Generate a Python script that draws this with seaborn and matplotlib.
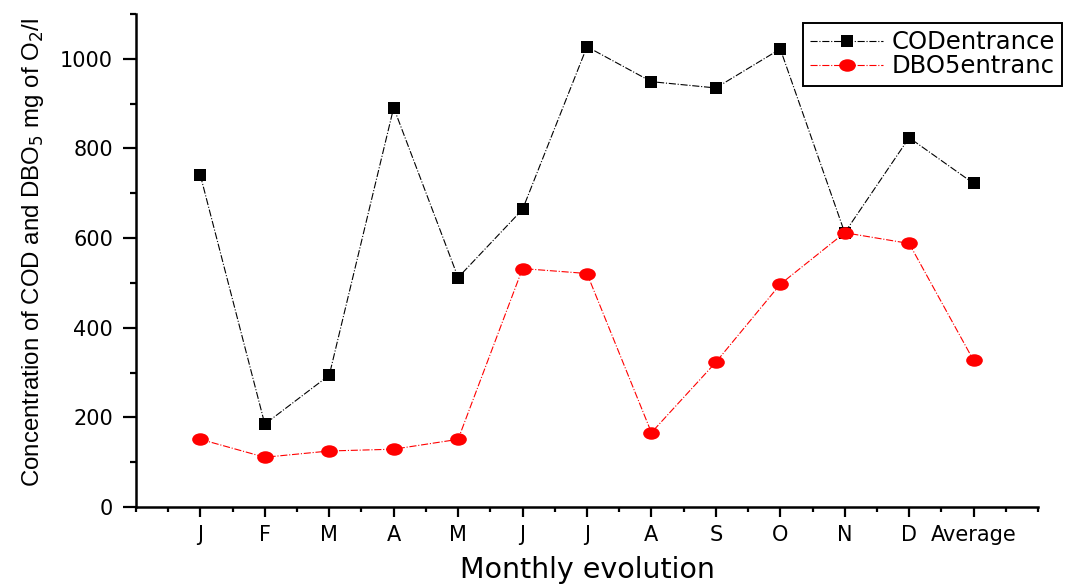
import matplotlib
matplotlib.use("Agg")
import matplotlib.pyplot as plt
from matplotlib.ticker import MultipleLocator
from matplotlib.path import Path
import pandas as pd
import seaborn as sns

# ── Data ──
months = ["J", "F", "M", "A", "M", "J", "J", "A", "S", "O", "N", "D", "Average"]
cod_entrance = [740, 185, 294, 891, 512, 664, 1027, 949, 935, 1022, 612, 824, 722]
dbo5_entrance = [151, 111, 125, 129, 151, 532, 521, 166, 323, 497, 612, 588, 327]

positions = list(range(1, len(months) + 1))
df = pd.DataFrame({
    "pos": positions * 2,
    "value": cod_entrance + dbo5_entrance,
    "series": ["CODentrance"] * len(months) + ["DBO5entranc"] * len(months),
})

sns.set_style("ticks", rc={"text.color": "black", "axes.labelcolor": "black",
                           "xtick.color": "black", "ytick.color": "black",
                           "axes.edgecolor": "black"})
plt.rcParams["font.family"] = ["DejaVu Sans"]

# the red markers are slightly wider than tall in the original
circ = Path.unit_circle()
ellipse = Path(circ.vertices * [1.0, 0.75], circ.codes)

fig = plt.figure(figsize=(10.73, 5.86), dpi=100)
ax = fig.add_axes([0.1267, 0.1348, 0.8407, 0.8413])

sns.lineplot(data=df[df.series == "CODentrance"], x="pos", y="value",
             color="black", marker="s", markersize=8.8, markeredgewidth=0,
             linestyle="-.", lw=0.8, label="CODentrance", ax=ax)
sns.lineplot(data=df[df.series == "DBO5entranc"], x="pos", y="value",
             color="red", marker=ellipse, markersize=12, markeredgewidth=0,
             linestyle="-.", lw=0.8, label="DBO5entranc", ax=ax)

ax.set_xlim(0, 14)
ax.set_ylim(0, 1100)
ax.set_xticks(positions)
ax.set_xticklabels(months)
ax.xaxis.set_minor_locator(MultipleLocator(0.5))
ax.set_yticks(range(0, 1001, 200))
ax.yaxis.set_minor_locator(MultipleLocator(100))

ax.tick_params(axis="x", which="major", length=7, width=1.6, labelsize=15, pad=6)
ax.tick_params(axis="x", which="minor", length=3.7, width=1.6)
ax.tick_params(axis="y", which="major", length=9.5, width=1.6, labelsize=15, pad=7)
ax.tick_params(axis="y", which="minor", length=4.5, width=1.6)
for s in ["left", "bottom"]:
    ax.spines[s].set_linewidth(1.8)
sns.despine(ax=ax)

ax.set_xlabel("Monthly evolution", fontsize=20.5, labelpad=8)
ax.set_ylabel("Concentration of COD and DBO$_5$ mg of O$_2$/l", fontsize=17.3,
              family=["Liberation Sans Narrow", "Liberation Sans"])
ax.yaxis.set_label_coords(-0.1, 0.517)

leg = ax.legend(loc="upper left", bbox_to_anchor=(0.7395, 0.9817), fontsize=17.5,
                frameon=True, fancybox=False, edgecolor="black", framealpha=1,
                handlelength=3.0, handletextpad=0.35, borderpad=0.3,
                labelspacing=0.0, borderaxespad=0)
leg.get_frame().set_linewidth(1.4)

fig.savefig("out.png", dpi=100)
